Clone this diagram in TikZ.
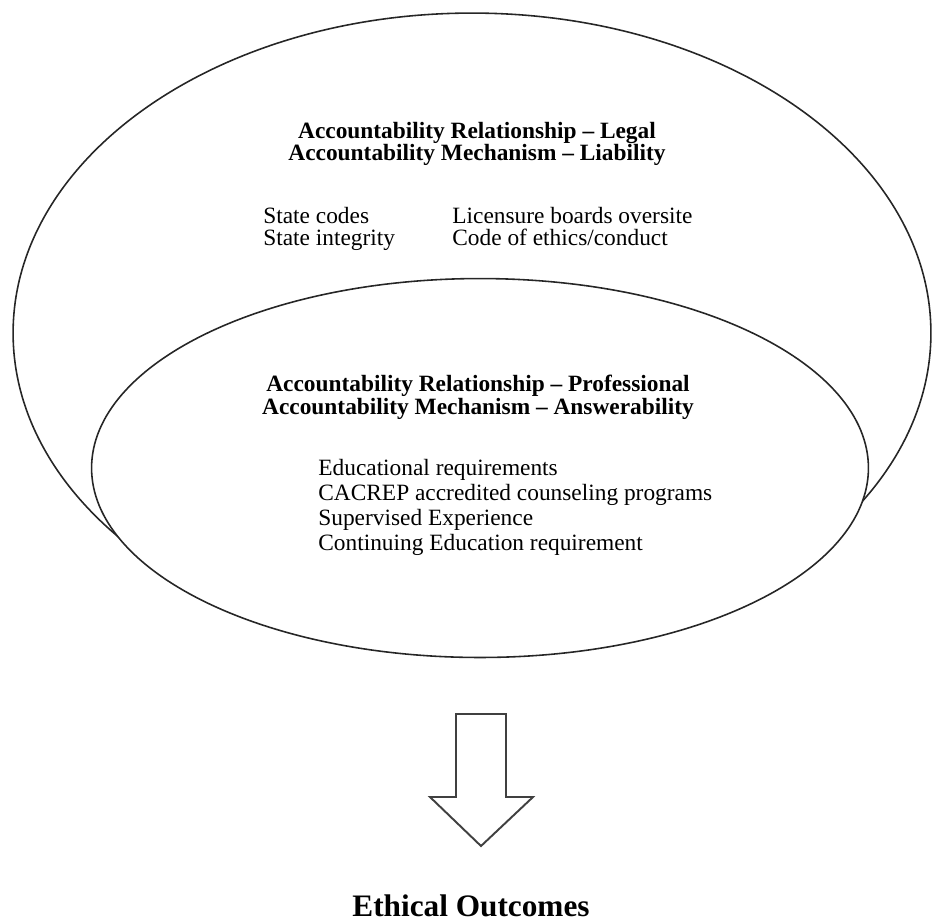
\documentclass[tikz,border=0pt]{standalone}
\usepackage{fontspec}
\setmainfont{Liberation Serif}
\usepackage{tikz}

\begin{document}
\begin{tikzpicture}[x=0.02cm,y=-0.02cm,
    head/.style={font=\fontsize{13.3}{12.5}\selectfont\bfseries,anchor=base,inner sep=0pt},
    item/.style={font=\fontsize{13.3}{12.5}\selectfont,anchor=base west,inner sep=0pt},
    ring/.style={draw=black!85,line width=0.9pt}]
    \useasboundingbox (0,0) rectangle (932,921);

    % Outer ellipse (legal)
    \draw[ring] (472,333) ellipse [x radius=9.18cm,y radius=6.4cm];

    % Inner ellipse (professional), drawn on top
    \draw[ring,fill=white] (480,468) ellipse [x radius=7.77cm,y radius=3.79cm];

    % Legal headings
    \node[head] (legal) at (477,138) {Accountability Relationship – Legal};
    \node[head] (liability) at (477,160) {Accountability Mechanism – Liability};

    % Legal items, two columns
    \foreach \y/\left/\right in {223/State codes/Licensure boards oversite,
                                 245/State integrity/{Code of ethics/conduct}}
    {
        \node[item] (l\y) at (263,\y) {\left};
        \node[item] (r\y) at (452,\y) {\right};
    }

    % Professional headings
    \node[head] (prof) at (478,391) {Accountability Relationship – Professional};
    \node[head] (answer) at (478,414) {Accountability Mechanism – Answerability};

    % Professional items
    \foreach \i/\txt in {0/Educational requirements,
                         1/CACREP accredited counseling programs,
                         2/Supervised Experience,
                         3/Continuing Education requirement}
        \node[item] (p\i) at (318,475+25*\i) {\txt};

    % Block arrow
    \coordinate (tip) at (481,846);
    \draw[draw=black!75,line width=1.1pt,line join=miter]
        (456,714) -- (506,714) -- (506,797) -- (533,797) -- (tip)
        -- (430,797) -- (456,797) -- cycle;

    % Outcome
    \node[head,font=\fontsize{17.8}{19}\selectfont\bfseries] (outcome) at (471,916) {Ethical Outcomes};
\end{tikzpicture}
\end{document}
